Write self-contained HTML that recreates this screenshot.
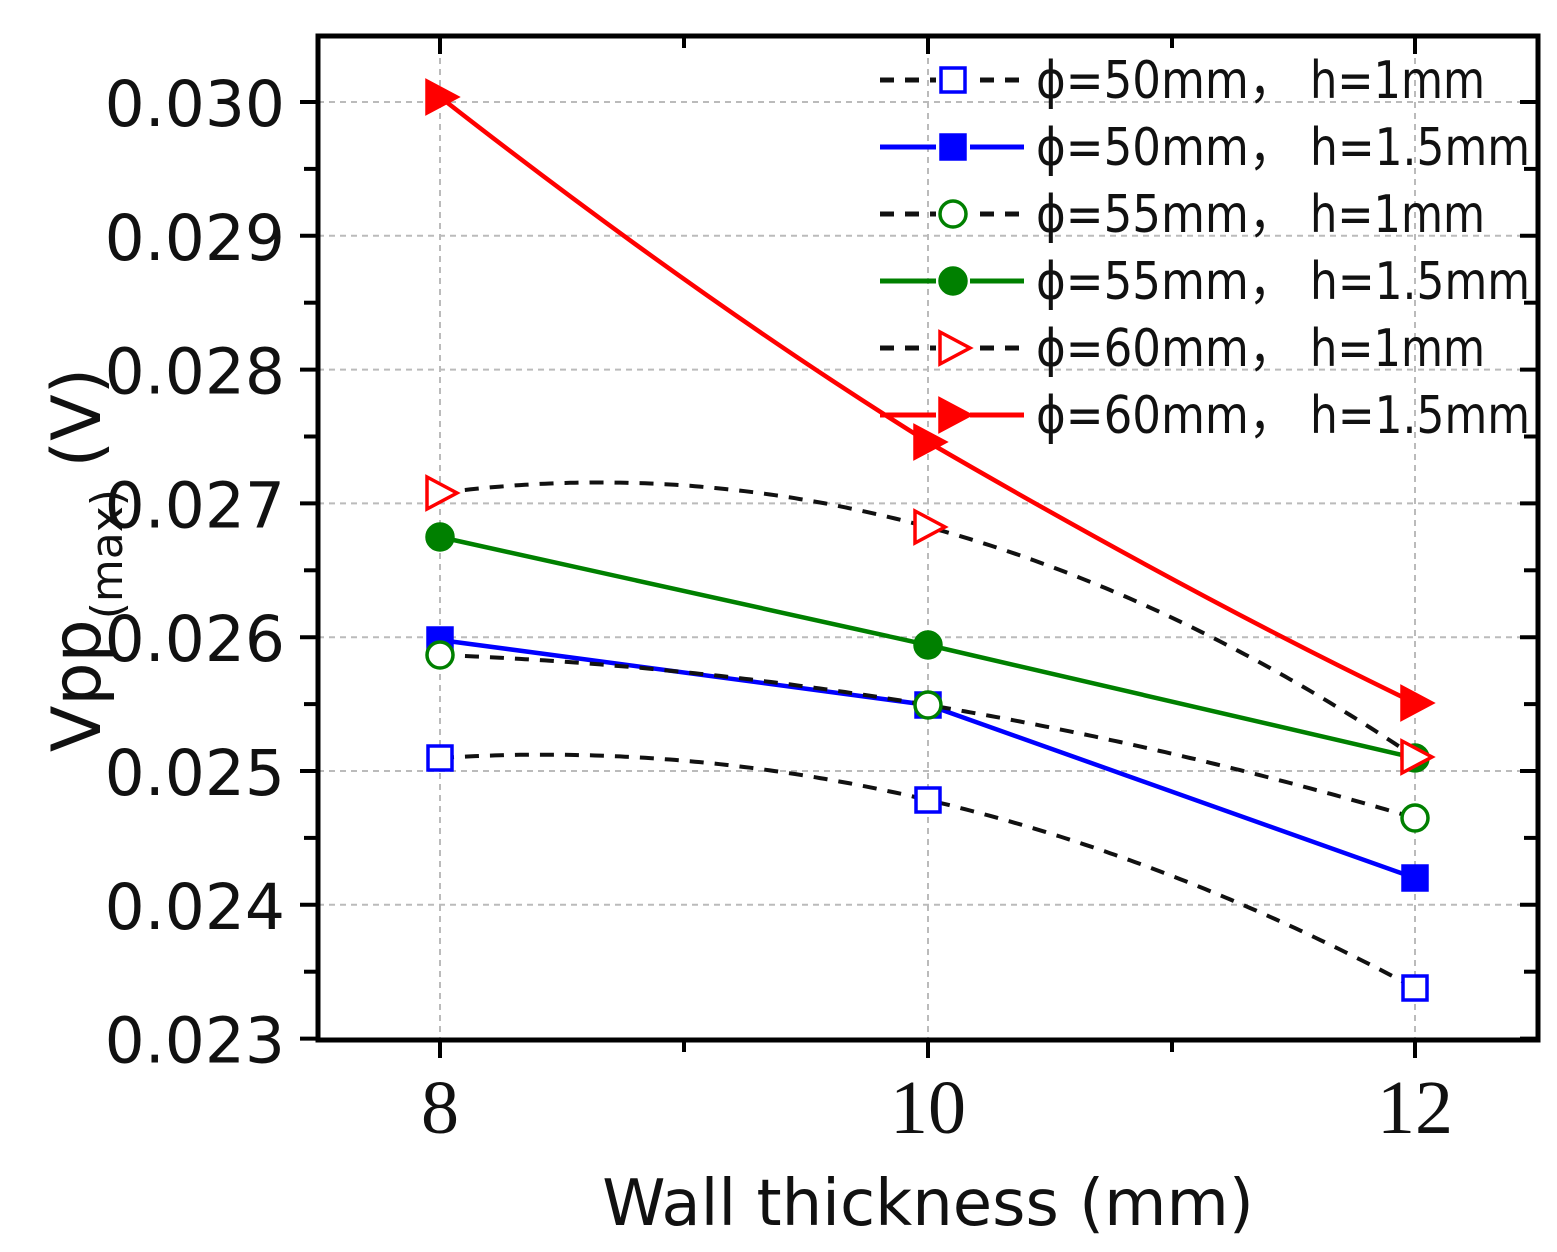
<!DOCTYPE html>
<html><head><meta charset="utf-8"><style>
html,body{margin:0;padding:0;background:#fff;}
svg{display:block;}
</style></head><body>
<svg id="s" width="1557" height="1252" xmlns="http://www.w3.org/2000/svg" font-family="'DejaVu Sans', 'Liberation Sans', sans-serif">
<rect width="1557" height="1252" fill="#fff"/>
<g id="grid" stroke="#bbb" stroke-width="2" stroke-dasharray="6,5" fill="none"></g>
<g id="axes"></g>
<g id="series"></g>
<g id="legend"></g>
<g font-size="63" fill="#111" text-anchor="end" id="ylab"></g>
<g font-family="'Liberation Serif', serif" font-size="76" fill="#111" text-anchor="middle">
<text x="440" y="1133">8</text><text x="928" y="1133">10</text><text x="1415" y="1133">12</text>
</g>
<text x="928" y="1225" font-size="64" text-anchor="middle" fill="#111">Wall thickness (mm)</text>
<text transform="translate(100,560) rotate(-90)" font-size="68" text-anchor="middle" fill="#111">Vpp<tspan font-size="44" dy="22">(max)</tspan><tspan dy="-22"> (V)</tspan></text>
</svg>
<script>
var NS="http://www.w3.org/2000/svg";
function el(p,t,a){var e=document.createElementNS(NS,t);for(var k in a)e.setAttribute(k,a[k]);(typeof p=='string'?document.getElementById(p):p).appendChild(e);return e;}
var L=318,R=1538,T=36,B=1040;
function Y(v){return 102+(0.030-v)/0.001*133.8;}
var XS=[440,928,1415];
for(var i=0;i<7;i++){var y=Y(0.030-i*0.001);el('grid','line',{x1:L,x2:R,y1:y,y2:y});}
XS.forEach(function(x){el('grid','line',{x1:x,x2:x,y1:T,y2:B});});
el('axes','rect',{x:L,y:T,width:R-L,height:B-T,fill:'none',stroke:'#000','stroke-width':5});
for(var i=0;i<=14;i++){var y=Y(0.030-i*0.0005);if(y>B+1)continue;var len=(i%2==0)?18:14;
 el('axes','line',{x1:L-len,x2:L,y1:y,y2:y,stroke:'#000','stroke-width':4});
 el('axes','line',{x1:R-len,x2:R,y1:y,y2:y,stroke:'#000','stroke-width':4});}
[440,684,928,1172,1415].forEach(function(x,i){var len=i%2==0?18:12;
 el('axes','line',{x1:x,x2:x,y1:B,y2:B+len,stroke:'#000','stroke-width':4});
 el('axes','line',{x1:x,x2:x,y1:T,y2:T+len,stroke:'#000','stroke-width':4});});
for(var i=0;i<8;i++){var t=el('ylab','text',{x:285,y:Y(0.030-i*0.001)+24});t.textContent=(0.030-i*0.001).toFixed(3);}
function curve(ys){
 var x0=XS[0],x1=XS[1],x2=XS[2],d='';
 for(var x=x0;x<=x2;x+=5){var y=ys[0]*(x-x1)*(x-x2)/((x0-x1)*(x0-x2))+ys[1]*(x-x0)*(x-x2)/((x1-x0)*(x1-x2))+ys[2]*(x-x0)*(x-x1)/((x2-x0)*(x2-x1));d+=(d?'L':'M')+x+','+y.toFixed(1);}
 return d;}
function marker(g,type,x,y,col,fill){var s=12;
 if(type=='sq')el(g,'rect',{x:x-s,y:y-s,width:2*s,height:2*s,fill:fill?col:'#fff',stroke:col,'stroke-width':3.5});
 else if(type=='ci')el(g,'circle',{cx:x,cy:y,r:13,fill:fill?col:'#fff',stroke:col,'stroke-width':3.5});
 else el(g,'polygon',{points:(x-13)+','+(y-16)+' '+(x+17)+','+y+' '+(x-13)+','+(y+16),fill:fill?col:'#fff',stroke:col,'stroke-width':3.5});}
var S=[
 {ys:[758,800,988],m:'sq',c:'#0000ff',f:0,a:'ϕ=50mm，',b:'h=1mm'},
 {ys:[640,705,878],m:'sq',c:'#0000ff',f:1,a:'ϕ=50mm，',b:'h=1.5mm'},
 {ys:[655,705,818],m:'ci',c:'#008000',f:0,a:'ϕ=55mm，',b:'h=1mm'},
 {ys:[537,645,758],m:'ci',c:'#008000',f:1,a:'ϕ=55mm，',b:'h=1.5mm'},
 {ys:[493,527,757],m:'tr',c:'#ff0000',f:0,a:'ϕ=60mm，',b:'h=1mm'},
 {ys:[97,442,703],m:'tr',c:'#ff0000',f:1,a:'ϕ=60mm，',b:'h=1.5mm'}];
S.forEach(function(s){
 if(s.f){var d='M'+XS[0]+','+s.ys[0]+'L'+XS[1]+','+s.ys[1]+'L'+XS[2]+','+s.ys[2];
  if(s.c=='#ff0000')d='M440,97Q700,300 928,442Q1200,600 1415,703';
  el('series','path',{d:d,fill:'none',stroke:s.c,'stroke-width':4.5});}
 else el('series','path',{d:curve(s.ys),fill:'none',stroke:'#111','stroke-width':4,'stroke-dasharray':'14,11'});});
S.forEach(function(s){for(var i=0;i<3;i++)marker('series',s.m,XS[i],s.ys[i],s.c,s.f);});
S.forEach(function(s,i){var y=80+i*67;
 if(s.f)el('legend','line',{x1:880,x2:1024,y1:y,y2:y,stroke:s.c,'stroke-width':5});
 else el('legend','line',{x1:880,x2:1024,y1:y,y2:y,stroke:'#111','stroke-width':5,'stroke-dasharray':'14,11'});
 el('legend','rect',{x:936,y:y-17,width:34,height:34,fill:'#fff'});
 marker('legend',s.m,953,y,s.c,s.f);
 var t=el('legend','text',{x:1036,y:y+18,'font-size':52,fill:'#111','font-family':"'DejaVu Sans','Noto Sans CJK SC',sans-serif"});
 var t1=el(t,'tspan',{x:1036,textLength:258,lengthAdjust:'spacingAndGlyphs'});t1.textContent=s.a;
 var t2=el(t,'tspan',{x:1310,textLength:(s.b.length>5?220:175),lengthAdjust:'spacingAndGlyphs'});t2.textContent=s.b;});
</script>
</body></html>
